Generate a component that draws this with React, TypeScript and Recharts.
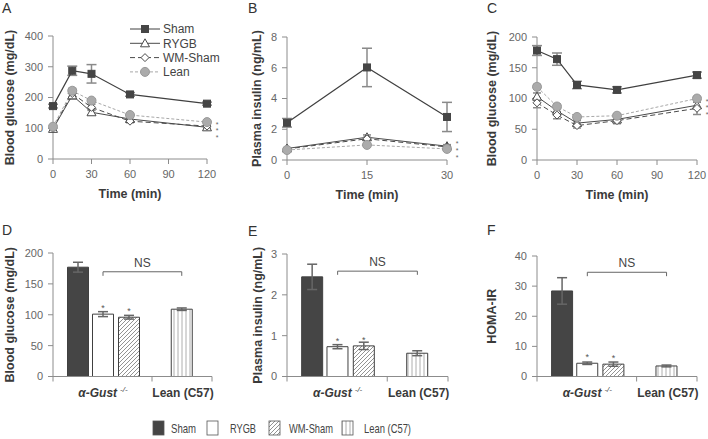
import React from "react";
import {
  LineChart,
  Line,
  XAxis,
  YAxis,
  ErrorBar,
  BarChart,
  Bar,
  Cell,
  ReferenceLine,
  LabelList,
  Label,
} from "recharts";

const SANS = "'Liberation Sans', Arial, Helvetica, sans-serif";
const AXIS = "#8c8c8c";
const TICK_TEXT = "#666";
const TITLE = "#3a3a3a";
const DARK = "#454545";
const ERR = "#8a8a8a";

// Panel A: glucose after oral glucose load
const ogttTimes = [0, 15, 30, 60, 120];
const ogttSham = [172, 287, 277, 210, 180];
const ogttShamErr = [6, 15, 30, 6, 5];
const ogttRygb = [98, 207, 152, 130, 103];
const ogttRygbErr = [5, 12, 8, 5, 5];
const ogttWm = [100, 213, 168, 123, 107];
const ogttWmErr = [5, 10, 10, 5, 6];
const ogttLean = [105, 222, 190, 143, 120];
const ogttLeanErr = [4, 8, 6, 5, 4];

// Panel B: plasma insulin
const insTimes = [0, 15, 30];
const insSham = [2.42, 6.02, 2.8];
const insShamErr = [0.28, 1.25, 0.95];
const insRygb = [0.75, 1.48, 0.9];
const insRygbErr = [0.06, 0.15, 0.1];
const insWm = [0.72, 1.38, 0.85];
const insWmErr = [0.05, 0.1, 0.08];
const insLean = [0.65, 0.98, 0.72];
const insLeanErr = [0.05, 0.08, 0.05];

// Panel C: glucose after insulin
const ittTimes = [0, 15, 30, 60, 120];
const ittSham = [178, 164, 122, 114, 138];
const ittShamErr = [8, 10, 6, 5, 5];
const ittRygb = [103, 80, 60, 66, 89];
const ittRygbErr = [6, 5, 4, 4, 5];
const ittWm = [93, 73, 56, 64, 84];
const ittWmErr = [8, 6, 4, 5, 10];
const ittLean = [119, 87, 70, 72, 100];
const ittLeanErr = [4, 4, 3, 3, 3];

// Panels D-F: fasting values per group
const barGroups = ["Sham", "RYGB", "WM-Sham", "Lean (C57)"];
const glucoseMean = [177, 101, 96, 109];
const glucoseErr = [8, 4, 3, 2];
const insulinMean = [2.44, 0.73, 0.75, 0.57];
const insulinErr = [0.31, 0.05, 0.09, 0.06];
const homaMean = [28.4, 4.4, 4.1, 3.5];
const homaErr = [4.4, 0.4, 0.7, 0.3];
const sigMarks = ["", "*", "*", ""];
const groupLabels = ["α-Gust", "Lean (C57)"];

// bar slots on a numeric axis, group centres and boundaries
const barSlots = [1, 2, 3.04, 5.15];
const groupCenters = [2, 5.2];
const groupBounds = [0, 3.96, 6.36];

const buildRows = (
  times: number[],
  sham: number[], shamErr: number[],
  rygb: number[], rygbErr: number[],
  wm: number[], wmErr: number[],
  lean: number[], leanErr: number[]
) =>
  times.map((time, i) => ({
    time,
    sham: sham[i], shamErr: shamErr[i],
    rygb: rygb[i], rygbErr: rygbErr[i],
    wm: wm[i], wmErr: wmErr[i],
    lean: lean[i], leanErr: leanErr[i],
  }));

const rowsA = buildRows(ogttTimes, ogttSham, ogttShamErr, ogttRygb, ogttRygbErr, ogttWm, ogttWmErr, ogttLean, ogttLeanErr);
const rowsB = buildRows(insTimes, insSham, insShamErr, insRygb, insRygbErr, insWm, insWmErr, insLean, insLeanErr);
const rowsC = buildRows(ittTimes, ittSham, ittShamErr, ittRygb, ittRygbErr, ittWm, ittWmErr, ittLean, ittLeanErr);

// markers
const squareMark = (cx: number, cy: number, key?: string) => (
  <rect key={key} x={cx - 3.5} y={cy - 3.5} width={7} height={7} fill={DARK} stroke={DARK} />
);
const triangleMark = (cx: number, cy: number, key?: string) => (
  <path key={key} d={`M${cx},${cy - 4.5}L${cx + 4.5},${cy + 3.5}L${cx - 4.5},${cy + 3.5}Z`} fill="#fff" stroke="#4a4a4a" />
);
const diamondMark = (cx: number, cy: number, key?: string) => (
  <path key={key} d={`M${cx},${cy - 4}L${cx + 4},${cy}L${cx},${cy + 4}L${cx - 4},${cy}Z`} fill="#fff" stroke="#4a4a4a" />
);
const circleMark = (cx: number, cy: number, key?: string) => (
  <circle key={key} cx={cx} cy={cy} r={4.5} fill="#ababab" stroke="#999" />
);

const dotOf = (mark: typeof squareMark, name: string) => (p: any) =>
  mark(p.cx, p.cy, `${name}-${p.index}`);

const yTitle = (text: string, cx: number) => (props: any) => {
  const vb = props.viewBox;
  const cy = vb.y + vb.height / 2;
  return (
    <text
      x={cx}
      y={cy}
      transform={`rotate(-90 ${cx} ${cy})`}
      textAnchor="middle"
      dominantBaseline="central"
      fontFamily={SANS}
      fontSize={12.5}
      fontWeight="bold"
      fill={TITLE}
    >
      {text}
    </text>
  );
};

const xTitle = (text: string) => (props: any) => {
  const vb = props.viewBox;
  return (
    <text
      x={vb.x + vb.width / 2}
      y={vb.y + 38.5}
      textAnchor="middle"
      fontFamily={SANS}
      fontSize={12.5}
      fontWeight="bold"
      fill={TITLE}
    >
      {text}
    </text>
  );
};

// three small asterisks stacked to the right of the last point
const starStack = (lastIndex: number, dy: number) => (props: any) => {
  if (props.index !== lastIndex) return null;
  const x = props.x + 10;
  const y = props.y + dy;
  return (
    <g fontFamily={SANS} fontSize={7} fill="#666" textAnchor="middle">
      <text x={x} y={y}>*</text>
      <text x={x} y={y + 6.8}>*</text>
      <text x={x} y={y + 13.6}>*</text>
    </g>
  );
};

const tickStyle = { fill: TICK_TEXT, fontSize: 11, fontFamily: SANS };

interface TimePanelProps {
  rows: any[];
  left: number;
  width: number;
  plotLeft: number;
  plotRight: number;
  plotTop: number;
  plotBottom: number;
  xMax: number;
  xTicks: number[];
  yMax: number;
  yTicks: number[];
  title: string;
  titleX: number;
  starDy: number;
}

function TimePanel(p: TimePanelProps) {
  const H = 205;
  const last = p.rows.length - 1;
  return (
    <div style={{ position: "absolute", left: p.left, top: 0 }}>
      <LineChart
        width={p.width}
        height={H}
        data={p.rows}
        margin={{ top: p.plotTop, right: p.width - p.plotRight, bottom: H - 40 - p.plotBottom, left: 0 }}
      >
        <XAxis
          dataKey="time"
          type="number"
          domain={[0, p.xMax]}
          ticks={p.xTicks}
          interval={0}
          height={40}
          stroke={AXIS}
          tickSize={5}
          tickMargin={6}
          tick={tickStyle}
        >
          <Label content={xTitle("Time (min)")} />
        </XAxis>
        <YAxis
          type="number"
          domain={[0, p.yMax]}
          ticks={p.yTicks}
          interval={0}
          width={p.plotLeft}
          stroke={AXIS}
          tickSize={5}
          tickMargin={5}
          tick={tickStyle}
        >
          <Label content={yTitle(p.title, p.titleX)} />
        </YAxis>
        <Line dataKey="rygb" stroke="#4a4a4a" strokeWidth={1} dot={dotOf(triangleMark, "rygb")} activeDot={false} isAnimationActive={false}>
          <ErrorBar dataKey="rygbErr" width={4} stroke={ERR} direction="y" />
        </Line>
        <Line dataKey="wm" stroke="#4a4a4a" strokeWidth={1} strokeDasharray="5 3" dot={dotOf(diamondMark, "wm")} activeDot={false} isAnimationActive={false}>
          <ErrorBar dataKey="wmErr" width={4} stroke={ERR} direction="y" />
        </Line>
        <Line dataKey="lean" stroke="#a8a8a8" strokeWidth={1} strokeDasharray="3 2" dot={dotOf(circleMark, "lean")} activeDot={false} isAnimationActive={false}>
          <ErrorBar dataKey="leanErr" width={4} stroke={ERR} direction="y" />
          <LabelList dataKey="lean" content={starStack(last, p.starDy)} />
        </Line>
        <Line dataKey="sham" stroke="#404040" strokeWidth={1.2} dot={dotOf(squareMark, "sham")} activeDot={false} isAnimationActive={false}>
          <ErrorBar dataKey="shamErr" width={5} stroke={ERR} direction="y" />
        </Line>
      </LineChart>
    </div>
  );
}

const barFills = [DARK, "#ffffff", "url(#hatchDiag)", "url(#hatchVert)"];

const groupTick = (props: any) => {
  const { x, y, payload } = props;
  const gi = groupCenters.indexOf(payload.value);
  if (gi < 0) {
    return <line x1={x} x2={x} y1={y} y2={y + 5} stroke={AXIS} />;
  }
  return (
    <text x={x} y={y + 20} textAnchor="middle" fontFamily={SANS} fontSize={12} fontWeight="bold" fill={TITLE}>
      {gi === 0 ? (
        <>
          <tspan fontStyle="italic">{groupLabels[0]}</tspan>
          <tspan fontSize={8} fontWeight="normal" fontStyle="italic" dx={3} dy={-5}>-/-</tspan>
        </>
      ) : (
        groupLabels[1]
      )}
    </text>
  );
};

const sigLabel = (props: any) => {
  if (!props.value) return null;
  return (
    <text x={props.x + props.width / 2} y={props.y - 3} textAnchor="middle" fontFamily={SANS} fontSize={9} fill="#555">
      {props.value}
    </text>
  );
};

interface BarPanelProps {
  left: number;
  width: number;
  plotLeft: number;
  plotRight: number;
  plotTop: number;
  values: number[];
  errors: number[];
  yMax: number;
  yTicks: number[];
  title: string;
  titleX: number;
  ns: number;
  nsFoot: number;
}

function BarPanel(p: BarPanelProps) {
  const H = 200;
  const plotBottom = 166.5;
  const rows = barGroups.map((group, i) => ({
    group,
    pos: barSlots[i],
    value: p.values[i],
    err: p.errors[i],
    sig: sigMarks[i],
  }));
  const nsLabel = (props: any) => {
    const vb = props.viewBox;
    return (
      <text x={vb.x + vb.width / 2} y={vb.y - 5} textAnchor="middle" fontFamily={SANS} fontSize={12} fill="#444">
        NS
      </text>
    );
  };
  return (
    <div style={{ position: "absolute", left: p.left, top: 210 }}>
      <BarChart
        width={p.width}
        height={H}
        data={rows}
        margin={{ top: p.plotTop, right: p.width - p.plotRight, bottom: H - 30 - plotBottom, left: 0 }}
      >
        <XAxis
          dataKey="pos"
          type="number"
          domain={[0, groupBounds[2]]}
          ticks={[groupBounds[0], groupCenters[0], groupBounds[1], groupCenters[1], groupBounds[2]]}
          interval={0}
          height={30}
          stroke={AXIS}
          tickLine={false}
          tickSize={0}
          tickMargin={0}
          tick={groupTick}
        />
        <YAxis
          type="number"
          domain={[0, p.yMax]}
          ticks={p.yTicks}
          interval={0}
          width={p.plotLeft}
          stroke={AXIS}
          tickSize={5}
          tickMargin={5}
          tick={tickStyle}
        >
          <Label content={yTitle(p.title, p.titleX)} />
        </YAxis>
        <ReferenceLine
          segment={[{ x: barSlots[1], y: p.ns }, { x: barSlots[3], y: p.ns }]}
          stroke="#666"
          label={nsLabel}
        />
        <ReferenceLine segment={[{ x: barSlots[1], y: p.ns }, { x: barSlots[1], y: p.nsFoot }]} stroke="#666" />
        <ReferenceLine segment={[{ x: barSlots[3], y: p.ns }, { x: barSlots[3], y: p.nsFoot }]} stroke="#666" />
        <Bar dataKey="value" barSize={21} stroke="#404040" strokeWidth={1} isAnimationActive={false}>
          {rows.map((r, i) => (
            <Cell key={`c-${i}`} fill={barFills[i]} />
          ))}
          <ErrorBar dataKey="err" width={5} stroke="#666" direction="y" />
          <LabelList dataKey="sig" content={sigLabel} />
        </Bar>
      </BarChart>
    </div>
  );
}

const legendRows = [
  { name: "Sham", mark: squareMark, stroke: "#404040", dash: undefined },
  { name: "RYGB", mark: triangleMark, stroke: "#4a4a4a", dash: undefined },
  { name: "WM-Sham", mark: diamondMark, stroke: "#4a4a4a", dash: "5 3" },
  { name: "Lean", mark: circleMark, stroke: "#a8a8a8", dash: "3 2" },
];

const swatchFills = [DARK, "#ffffff", "url(#hatchDiag)", "url(#hatchVert)"];
const swatchX = [153, 207, 269, 342];
const swatchTextX = [171, 230, 289, 364];
const swatchTextLen = [25, 26, 44, 47];

export default function App() {
  return (
    <div style={{ position: "absolute", left: 0, top: 0, width: 708, height: 439, background: "#fff", overflow: "hidden" }}>
      <svg width={0} height={0} style={{ position: "absolute" }}>
        <defs>
          <pattern id="hatchDiag" patternUnits="userSpaceOnUse" width={4} height={4}>
            <rect width={4} height={4} fill="#fff" />
            <path d="M-1,1 l2,-2 M0,4 l4,-4 M3,5 l2,-2" stroke="#777" strokeWidth={0.8} />
          </pattern>
          <pattern id="hatchVert" patternUnits="userSpaceOnUse" width={4} height={4}>
            <rect width={4} height={4} fill="#fff" />
            <line x1={2} y1={0} x2={2} y2={4} stroke="#999" strokeWidth={0.8} />
          </pattern>
        </defs>
      </svg>

      <TimePanel
        rows={rowsA} left={0} width={230}
        plotLeft={53} plotRight={207} plotTop={36} plotBottom={159}
        xMax={120} xTicks={[0, 30, 60, 90, 120]}
        yMax={400} yTicks={[0, 100, 200, 300, 400]}
        title="Blood glucose (mg/dL)" titleX={10} starDy={4.5}
      />
      <TimePanel
        rows={rowsB} left={230} width={230}
        plotLeft={57} plotRight={217} plotTop={37} plotBottom={160}
        xMax={30} xTicks={[0, 15, 30]}
        yMax={8} yTicks={[0, 2, 4, 6, 8]}
        title="Plasma insulin (ng/mL)" titleX={27} starDy={-2.5}
      />
      <TimePanel
        rows={rowsC} left={460} width={248}
        plotLeft={77} plotRight={237} plotTop={37} plotBottom={160}
        xMax={120} xTicks={[0, 30, 60, 90, 120]}
        yMax={200} yTicks={[0, 50, 100, 150, 200]}
        title="Blood glucose (mg/dL)" titleX={32} starDy={5}
      />

      <BarPanel
        left={0} width={230} plotLeft={53} plotRight={212} plotTop={43}
        values={glucoseMean} errors={glucoseErr}
        yMax={200} yTicks={[0, 50, 100, 150, 200]}
        title="Blood glucose (mg/dL)" titleX={10} ns={169.6} nsFoot={163}
      />
      <BarPanel
        left={230} width={230} plotLeft={57} plotRight={218} plotTop={44}
        values={insulinMean} errors={insulinErr}
        yMax={3} yTicks={[0, 1, 2, 3]}
        title="Plasma insulin (ng/mL)" titleX={28} ns={2.58} nsFoot={2.49}
      />
      <BarPanel
        left={460} width={248} plotLeft={77} plotRight={237} plotTop={46}
        values={homaMean} errors={homaErr}
        yMax={40} yTicks={[0, 10, 20, 30, 40]}
        title="HOMA-IR" titleX={32} ns={34.6} nsFoot={33.3}
      />

      <svg width={708} height={439} style={{ position: "absolute", left: 0, top: 0, pointerEvents: "none" }}>
        {/* panel letters */}
        <g fontFamily={SANS} fontSize={14} fill="#333">
          <text x={2} y={13}>A</text>
          <text x={248} y={13}>B</text>
          <text x={487} y={13}>C</text>
          <text x={2} y={235}>D</text>
          <text x={248} y={236}>E</text>
          <text x={487} y={235}>F</text>
        </g>

        {/* legend of panel A */}
        {legendRows.map((r, i) => {
          const cy = 29 + i * 14.3;
          return (
            <g key={r.name}>
              <line x1={130} x2={160} y1={cy} y2={cy} stroke={r.stroke} strokeDasharray={r.dash} />
              {r.mark(145, cy)}
              <text x={163} y={cy + 4.3} fontFamily={SANS} fontSize={12} fill="#444">
                {r.name}
              </text>
            </g>
          );
        })}

        {/* legend of bar panels */}
        {barGroups.map((g, i) => (
          <g key={g}>
            <rect x={swatchX[i]} y={421} width={11} height={14} fill={swatchFills[i]} stroke="#555" strokeWidth={0.8} />
            <text
              x={swatchTextX[i]}
              y={432.5}
              fontFamily={SANS}
              fontSize={13}
              fill="#444"
              textLength={swatchTextLen[i]}
              lengthAdjust="spacingAndGlyphs"
            >
              {g}
            </text>
          </g>
        ))}
      </svg>
    </div>
  );
}
